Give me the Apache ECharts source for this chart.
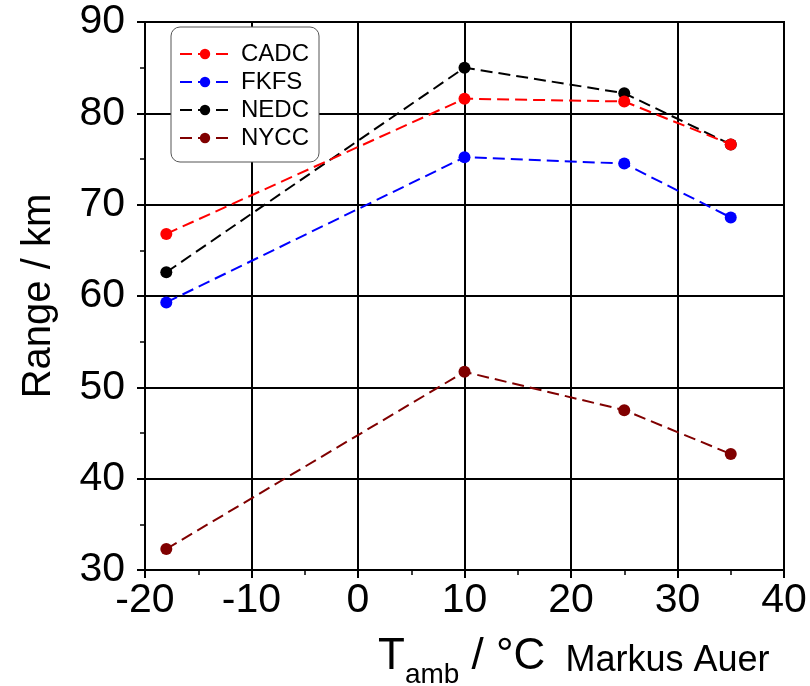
<!DOCTYPE html>
<html>
<head>
<meta charset="utf-8">
<script src="https://cdn.jsdelivr.net/npm/echarts@6/dist/echarts.min.js"></script>
<style>
  html, body { margin: 0; padding: 0; background: #fff; }
  #chart { width: 810px; height: 686px; }
</style>
</head>
<body>
<div id="chart"></div>
<script>
// temperatures (°C) and ranges (km)
var temps = [-18, 10, 25, 35];
var cadc = [66.8, 81.6, 81.3, 76.6];
var fkfs = [59.3, 75.2, 74.5, 68.6];
var nedc = [62.6, 85.0, 82.2, 76.6];
var nycc = [32.3, 51.7, 47.5, 42.7];
var seriesNames = ["CADC", "FKFS", "NEDC", "NYCC"];
var seriesColors = ["#ff0000", "#0000ff", "#000000", "#800000"];
var seriesValues = [cadc, fkfs, nedc, nycc];

var chart = echarts.init(document.getElementById("chart"));
var font = "'Liberation Sans', Arial, sans-serif";

function pairs(vals) {
  return temps.map(function (t, i) { return [t, vals[i]]; });
}

var series = seriesNames.map(function (name, i) {
  return {
    name: name,
    type: "line",
    data: pairs(seriesValues[i]),
    symbol: "circle",
    symbolSize: 12,
    color: seriesColors[i],
    lineStyle: { type: [12, 6], width: 2, color: seriesColors[i] },
    itemStyle: { color: seriesColors[i] },
    z: 4 - i
  };
});

var axisCommon = {
  axisLine: { show: true, onZero: false, lineStyle: { color: "#000", width: 2 } },
  axisTick: { show: true, length: 8, lineStyle: { color: "#000", width: 2 } },
  minorTick: { show: true, splitNumber: 2, length: 5, lineStyle: { color: "#000", width: 1.5 } },
  splitLine: { show: true, lineStyle: { color: "#000", width: 2 } }
};

var options = {
  animation: false,
  color: seriesColors,
  grid: {
    left: 145, right: 26, top: 22, bottom: 116,
    show: true, borderColor: "#000", borderWidth: 2, backgroundColor: "#fff"
  },
  legend: {
    orient: "vertical",
    left: 171, top: 27,
    data: seriesNames,
    itemWidth: 50, itemHeight: 13, itemGap: 4,
    padding: [15, 10, 12, 8],
    backgroundColor: "#fff",
    borderColor: "#555", borderWidth: 1, borderRadius: 9,
    textStyle: { fontFamily: font, fontSize: 24, color: "#000", padding: [0, 0, 0, 6] }
  },
  xAxis: Object.assign({
    type: "value",
    min: -20, max: 40, interval: 10,
    axisLabel: { fontFamily: font, fontSize: 41, color: "#000", margin: 10 }
  }, axisCommon),
  yAxis: Object.assign({
    type: "value",
    min: 30, max: 90, interval: 10,
    name: "Range / km",
    nameLocation: "middle",
    nameGap: 86,
    nameTextStyle: { fontFamily: font, fontSize: 40, color: "#000" },
    axisLabel: { fontFamily: font, fontSize: 41, color: "#000", margin: 20 }
  }, axisCommon),
  graphic: [
    {
      type: "text",
      left: 378, top: 635,
      style: {
        text: "{a|T}{sub|amb}{a| / °C}{m|  Markus Auer}",
        rich: {
          a: { fontFamily: font, fontSize: 44, fill: "#000", verticalAlign: "bottom", lineHeight: 46 },
          sub: { fontFamily: font, fontSize: 28, fill: "#000", verticalAlign: "bottom", padding: [0, 0, -10, 0], lineHeight: 46 },
          m: { fontFamily: font, fontSize: 36, fill: "#000", verticalAlign: "bottom", lineHeight: 46 }
        }
      }
    }
  ],
  series: series
};

if (options && typeof options === "object") {
  chart.setOption(options, true);
}
</script>
</body>
</html>
